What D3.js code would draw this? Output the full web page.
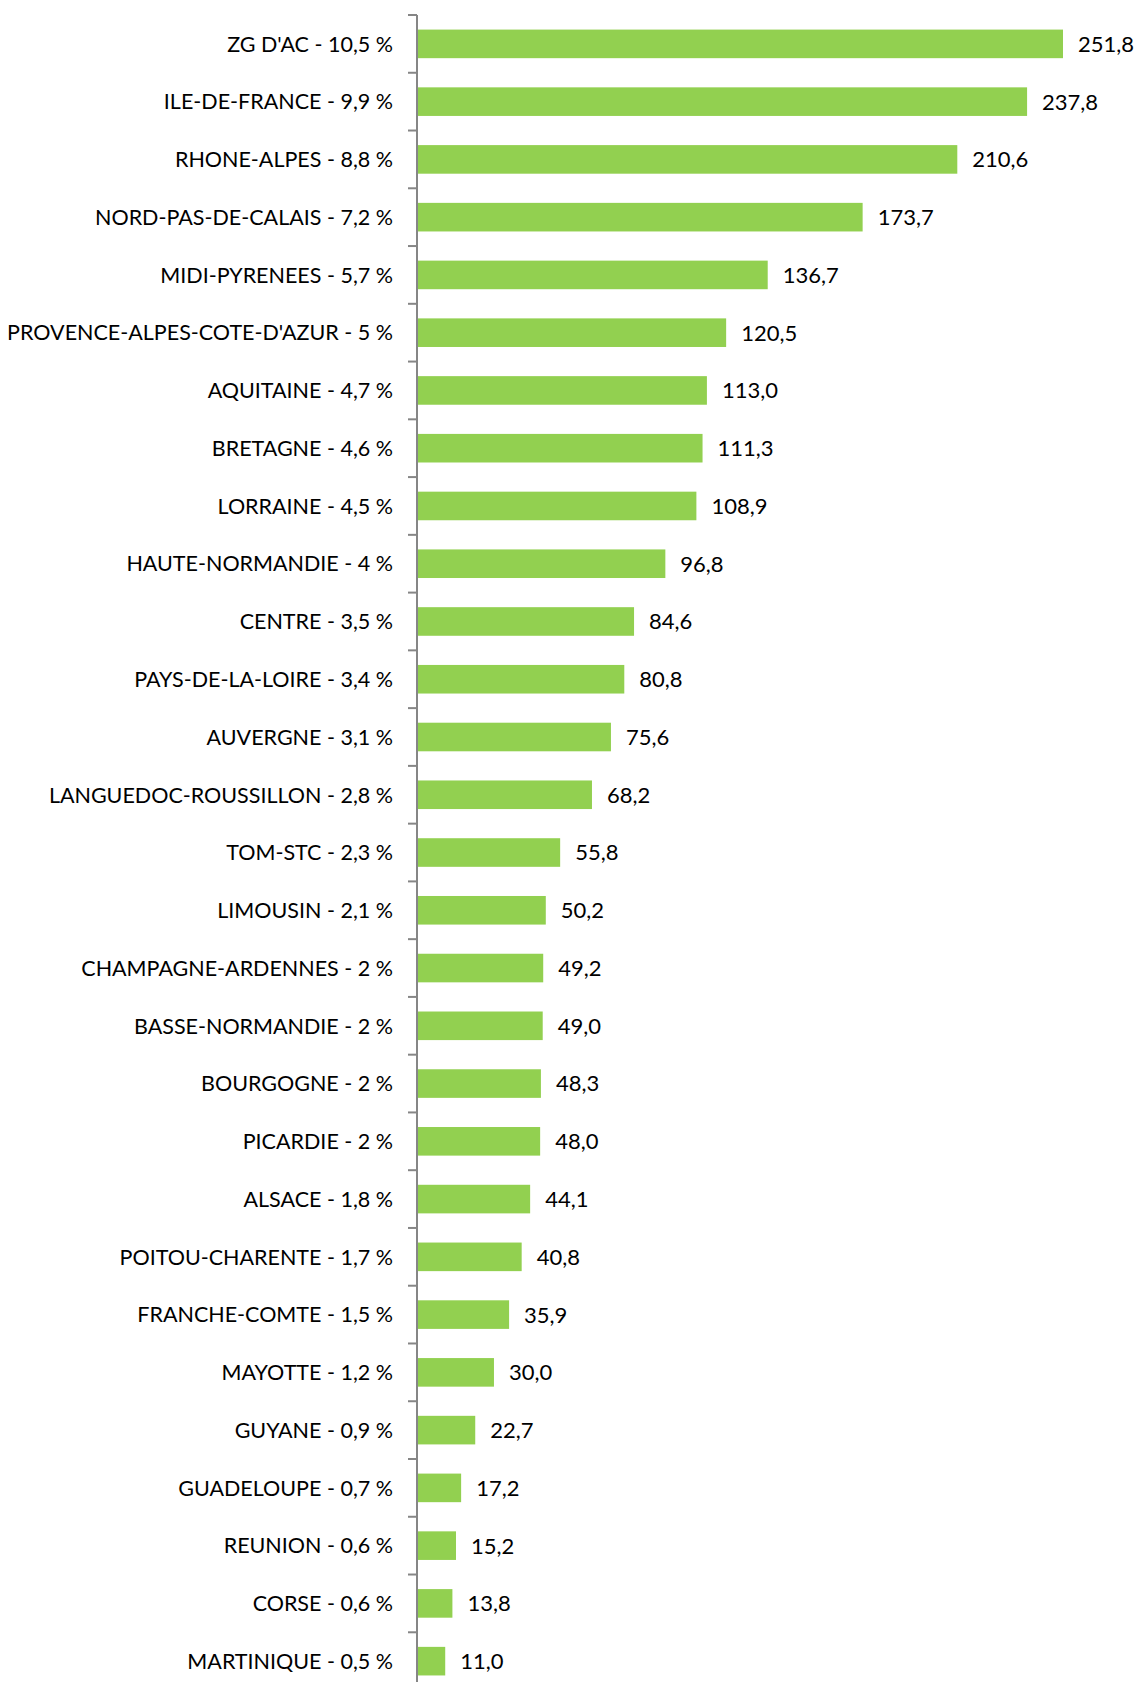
<!DOCTYPE html>
<html>
<head>
<meta charset="utf-8">
<script src="https://cdn.jsdelivr.net/npm/d3@7"></script>
<style>
  body { margin: 0; background: #fff; }
  text { font-family: Lato, "Open Sans", sans-serif; fill: #000; }
</style>
</head>
<body>
<svg id="chart"></svg>
<script>
// regions, share of total (%), and amount
var regions = ["ZG D'AC", "ILE-DE-FRANCE", "RHONE-ALPES", "NORD-PAS-DE-CALAIS", "MIDI-PYRENEES",
  "PROVENCE-ALPES-COTE-D'AZUR", "AQUITAINE", "BRETAGNE", "LORRAINE", "HAUTE-NORMANDIE",
  "CENTRE", "PAYS-DE-LA-LOIRE", "AUVERGNE", "LANGUEDOC-ROUSSILLON", "TOM-STC", "LIMOUSIN",
  "CHAMPAGNE-ARDENNES", "BASSE-NORMANDIE", "BOURGOGNE", "PICARDIE", "ALSACE",
  "POITOU-CHARENTE", "FRANCHE-COMTE", "MAYOTTE", "GUYANE", "GUADELOUPE", "REUNION",
  "CORSE", "MARTINIQUE"];
var shares = [10.5, 9.9, 8.8, 7.2, 5.7, 5, 4.7, 4.6, 4.5, 4, 3.5, 3.4, 3.1, 2.8, 2.3, 2.1,
  2, 2, 2, 2, 1.8, 1.7, 1.5, 1.2, 0.9, 0.7, 0.6, 0.6, 0.5];
var values = [251.8, 237.8, 210.6, 173.7, 136.7, 120.5, 113.0, 111.3, 108.9, 96.8, 84.6, 80.8,
  75.6, 68.2, 55.8, 50.2, 49.2, 49.0, 48.3, 48.0, 44.1, 40.8, 35.9, 30.0, 22.7, 17.2, 15.2,
  13.8, 11.0];

var width = 1138;
var height = 1682;
var margin = {top: 15, left: 417};
var step = 57.76;

var data = regions.map(function(r, i) {
  return {name: r, share: shares[i], value: values[i]};
});

var comma = function(s) { return s.replace('.', ','); };
var labelOf = function(d) { return d.name + ' - ' + comma(String(d.share)) + ' %'; };

var svg = d3.select('#chart')
  .attr('width', width)
  .attr('height', height);

var y = d3.scaleBand()
  .domain(regions)
  .range([margin.top, margin.top + step * regions.length])
  .paddingInner(0.505)
  .paddingOuter(0.2525);

var x = d3.scaleLinear()
  .domain([0, 251.8])
  .range([margin.left, margin.left + 646]);

// bars
svg.append('g')
  .selectAll('rect')
  .data(data)
  .enter()
  .append('rect')
  .attr('x', x(0))
  .attr('y', function(d) { return y(d.name); })
  .attr('width', function(d) { return x(d.value) - x(0); })
  .attr('height', y.bandwidth())
  .attr('fill', '#92d050');

// axis line and ticks between categories
var axis = svg.append('g').attr('stroke', '#868686').attr('stroke-width', 2);
axis.append('line')
  .attr('x1', x(0)).attr('x2', x(0))
  .attr('y1', margin.top).attr('y2', margin.top + step * regions.length);
axis.selectAll('.tick')
  .data(d3.range(regions.length + 1))
  .enter()
  .append('line')
  .attr('x1', x(0) - 9).attr('x2', x(0))
  .attr('y1', function(i) { return margin.top + i * step; })
  .attr('y2', function(i) { return margin.top + i * step; });

// category labels
svg.append('g')
  .selectAll('text')
  .data(data)
  .enter()
  .append('text')
  .attr('x', x(0) - 24)
  .attr('y', function(d) { return y(d.name) + y.bandwidth() / 2; })
  .attr('dy', '0.36em')
  .attr('text-anchor', 'end')
  .style('font-size', '21.5px')
  .text(labelOf);

// value labels
svg.append('g')
  .selectAll('text')
  .data(data)
  .enter()
  .append('text')
  .attr('x', function(d) { return x(d.value) + 15; })
  .attr('y', function(d) { return y(d.name) + y.bandwidth() / 2; })
  .attr('dy', '0.36em')
  .style('font-size', '22px')
  .text(function(d) { return comma(d3.format('.1f')(d.value)); });
</script>
</body>
</html>
